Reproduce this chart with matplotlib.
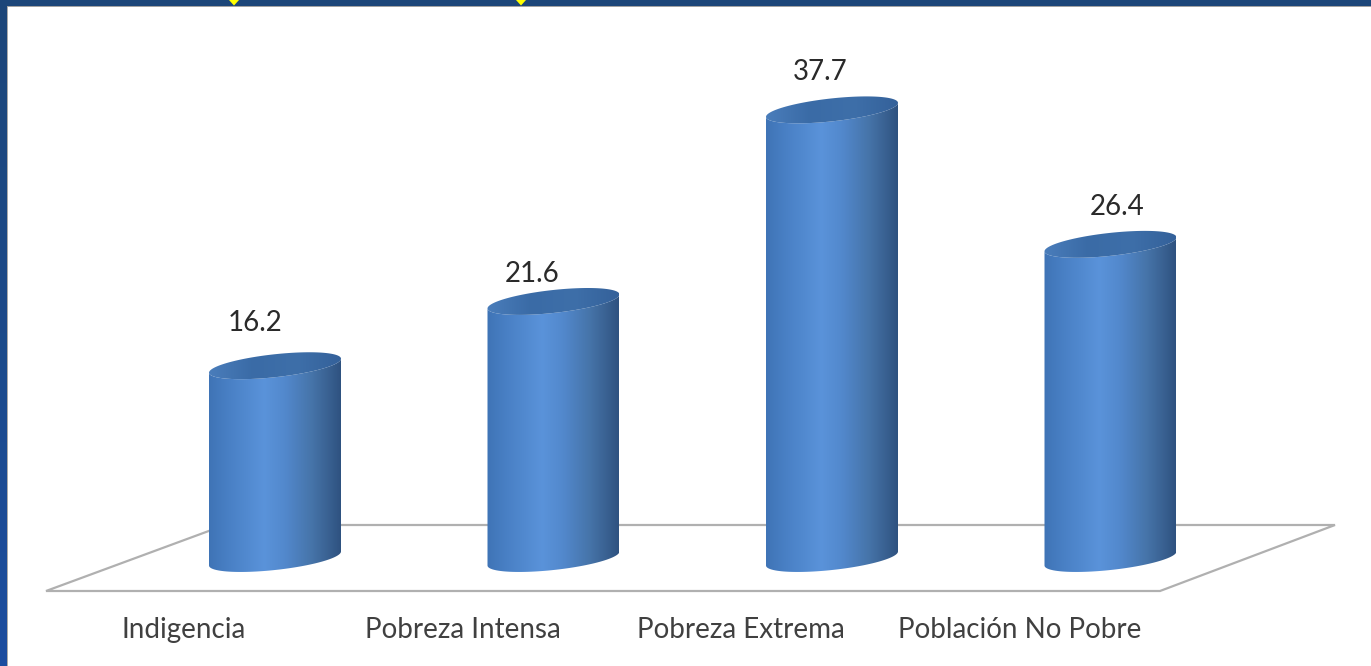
import numpy as np
import matplotlib
matplotlib.use("Agg")
import matplotlib.pyplot as plt
from matplotlib.colors import LinearSegmentedColormap
from matplotlib.patches import PathPatch, Polygon, Rectangle
from matplotlib.path import Path

categories = ["Indigencia", "Pobreza Intensa", "Pobreza Extrema", "Población No Pobre"]
values = [16.2, 21.6, 37.7, 26.4]

W, H = 1371, 666
PX_X, PX_Y = 278.5, 11.9          # pixels per category / per unit
X0, Y0 = 275, 558.5               # pixel of first bar centre / of the zero level
HALF_W, TILT, MINOR = 66, 7, 11.5 # cylinder ellipse, in pixels

fig = plt.figure(figsize=(W / 100, H / 100), dpi=100, facecolor="white")
ax = fig.add_axes([0, 0, 1, 1])
ax.axis("off")
xlim = (-X0 / PX_X, (W - X0) / PX_X)
ylim = ((Y0 - H) / PX_Y, Y0 / PX_Y)


def dx(px):
    return px / PX_X


def dy(px):
    return px / PX_Y


def pt_x(px):
    return (px - X0) / PX_X


def pt_y(px):
    return (Y0 - px) / PX_Y


# window frame
frame = "#1c4679"
frame_cmap = LinearSegmentedColormap.from_list("frame", ["#1b4da0", "#1c4a8a", "#1c4679"])
ax.imshow(np.linspace(0, 1, 128).reshape(-1, 1), cmap=frame_cmap, origin="lower", aspect="auto",
          extent=(pt_x(0), pt_x(6.5), pt_y(H), pt_y(0)), zorder=5)
ax.add_patch(Rectangle((pt_x(0), pt_y(5.5)), dx(W), dy(5.5), fc=frame, ec="none", zorder=5))
ax.plot([pt_x(7.2), pt_x(7.2)], [pt_y(H), pt_y(5.5)], color="#a8a8a8", lw=1.4, zorder=4)
ax.plot([pt_x(6), pt_x(W)], [pt_y(6.2), pt_y(6.2)], color="#a0a0a0", lw=1.4, zorder=4)
for mx in (234, 521):
    ax.add_patch(Polygon([(pt_x(mx - 5), pt_y(0)), (pt_x(mx + 5), pt_y(0)), (pt_x(mx), pt_y(5.5))],
                         fc="#ffff00", ec="none", zorder=6))

# floor
floor = [(46, 591), (1160, 591), (1335, 525), (225, 525)]
ax.add_patch(Polygon([(pt_x(a), pt_y(b)) for a, b in floor], closed=True, fc="white",
                     ec="#b0b0b0", lw=1.6, zorder=1))

body_cmap = LinearSegmentedColormap.from_list("body", [
    (0.00, "#3f74b6"), (0.15, "#4980c5"), (0.42, "#5a93da"), (0.58, "#5288cc"),
    (0.78, "#4674a9"), (0.92, "#385f8f"), (1.00, "#2e5280")])
top_cmap = LinearSegmentedColormap.from_list("top", ["#4a7dbb", "#3a6ba6", "#3e6fa9", "#34619a"])

t_low = np.linspace(np.pi, 2 * np.pi, 60)
t_all = np.linspace(0, 2 * np.pi, 120)
grad = np.linspace(0, 1, 256).reshape(1, -1)

for i, v in enumerate(values):
    hw, hk, hb = dx(HALF_W), dy(TILT), dy(MINOR)
    bx = i + hw * np.cos(t_low)
    by = 0 + hk * np.cos(t_low) + hb * np.sin(t_low)
    tx = i + hw * np.cos(t_low[::-1])
    ty = v + hk * np.cos(t_low[::-1]) + hb * np.sin(t_low[::-1])
    verts = np.column_stack([np.r_[bx, tx], np.r_[by, ty]])
    body = PathPatch(Path(verts), transform=ax.transData, fc="none", ec="none")
    ax.add_patch(body)
    im = ax.imshow(grad, cmap=body_cmap, extent=(i - hw, i + hw, -dy(20), v + dy(20)),
                   aspect="auto", zorder=2)
    im.set_clip_path(body)

    top = PathPatch(Path(np.column_stack([i + hw * np.cos(t_all),
                                          v + hk * np.cos(t_all) + hb * np.sin(t_all)])),
                    transform=ax.transData, fc="none", ec="none")
    ax.add_patch(top)
    im2 = ax.imshow(grad, cmap=top_cmap, extent=(i - hw, i + hw, v - dy(20), v + dy(20)),
                    aspect="auto", zorder=3)
    im2.set_clip_path(top)

# texts
value_dx = [-20, -21, -12, 7]
value_py = [323, 274, 72, 207]
FONT = ["Lato", "DejaVu Sans"]
for i, v in enumerate(values):
    ax.text(i + dx(value_dx[i]), pt_y(value_py[i]), f"{v:.1f}", ha="center", va="center",
            fontsize=20, color="#2a2a2a", family=FONT, zorder=7)
for i, c in enumerate(categories):
    ax.text(i - dx(91), pt_y(630), c, ha="center", va="center",
            fontsize=20, color="#404040", family=FONT, zorder=7)

ax.set_xlim(*xlim)
ax.set_ylim(*ylim)
fig.savefig("out.png", dpi=100, facecolor="white")
